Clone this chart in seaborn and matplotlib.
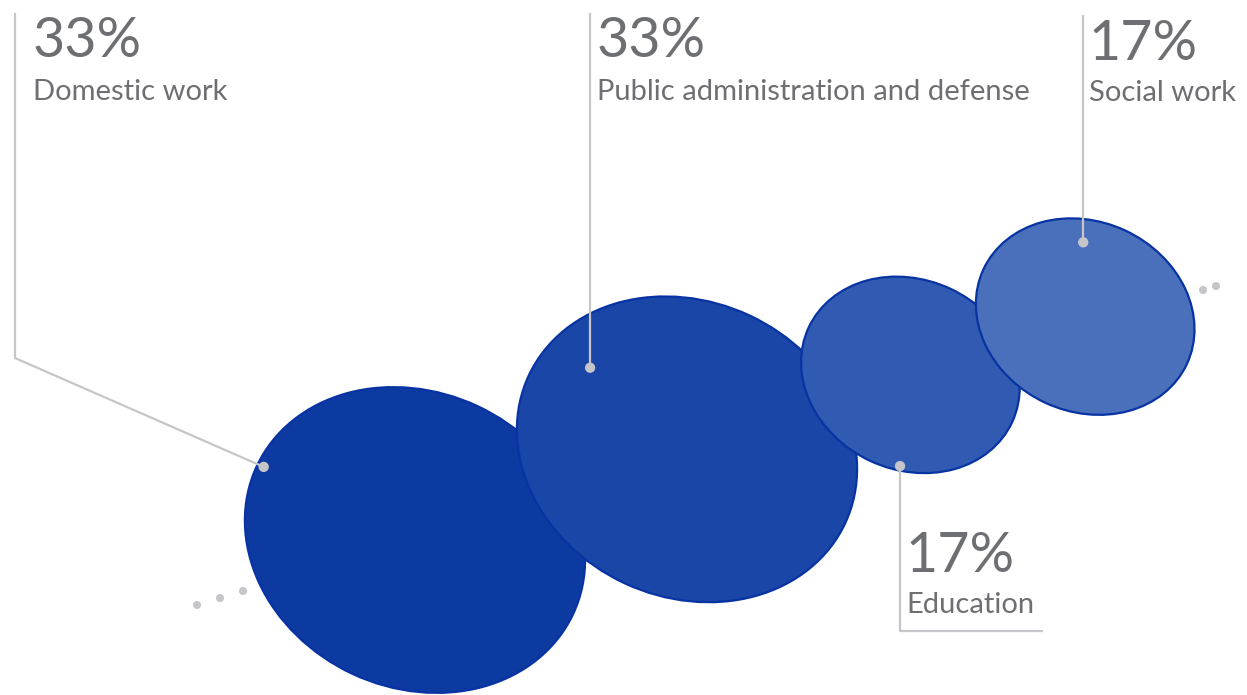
import numpy as np
import pandas as pd
import matplotlib
matplotlib.use("Agg")
import matplotlib.pyplot as plt
from matplotlib.patches import Ellipse
import seaborn as sns

# --- data -------------------------------------------------------------
categories = ["Domestic work", "Public administration and defense",
              "Education", "Social work"]
shares = [33, 33, 17, 17]          # percent
fill_colors = ["#0D3AA1", "#1A46A8", "#315BB2", "#4A6FBB"]

# --- style ------------------------------------------------------------
sns.set_theme(style="white")
plt.rcParams["font.family"] = ["Lato", "DejaVu Sans"]

TEXT = "#6E6F73"
GUIDE = "#C6C6CA"
EDGE = "#0833A3"

W, H = 1247, 695
fig = plt.figure(figsize=(W / 100, H / 100), dpi=100)
ax = fig.add_axes([0, 0, 1, 1])
ax.set_xlim(0, W)
ax.set_ylim(H, 0)
ax.axis("off")

# bubble radius grows with the share; bubbles are chained along a
# shallow diagonal, each overlapping its neighbour a little
R_MAX = 170.0
radii = [R_MAX * (v / max(shares)) ** (2 / 3) for v in shares]
cx, cy = [415.0], [540.0]
for i in range(1, len(shares)):
    step = 0.80 * (radii[i - 1] + radii[i])
    cx.append(cx[-1] + step)
    cy.append(cy[-1] - step / 3)

for x, y, r, c in zip(cx, cy, radii, fill_colors):
    ax.add_patch(Ellipse((x, y), width=2 * 1.027 * r, height=2 * 0.869 * r,
                         angle=25, facecolor=c, edgecolor=EDGE,
                         linewidth=1.6, zorder=2))

# where each leader touches its bubble (fraction of the radius)
anchor_offsets = [(-0.89, -0.43), (-0.57, -0.48), (-0.095, 0.835), (-0.018, -0.68)]
anchors = [(x + dx * r, y + dy * r)
           for (x, y, r), (dx, dy) in zip(zip(cx, cy, radii), anchor_offsets)]

# leader paths and label placement
leaders = [
    [(15, 13), (15, 358), anchors[0]],
    [(anchors[1][0], 13), anchors[1]],
    [anchors[2], (anchors[2][0], 631), (1043, 631)],
    [(anchors[3][0], 15), anchors[3]],
]
label_pos = [(33, 57, 100), (597, 57, 100), (906, 572, 613), (1089, 60, 101)]

for path in leaders:
    xs, ys = zip(*path)
    ax.plot(xs, ys, color=GUIDE, lw=1.6, solid_capstyle="butt", zorder=3)

for (x, y_pct, y_cat), cat, v in zip(label_pos, categories, shares):
    ax.text(x, y_pct, f"{v}%", fontsize=40, color=TEXT, va="baseline",
            ha="left", zorder=4)
    ax.text(x, y_cat, cat, fontsize=21, color=TEXT, va="baseline",
            ha="left", zorder=4)

anchor_df = pd.DataFrame(anchors, columns=["x", "y"])
sns.scatterplot(data=anchor_df, x="x", y="y", ax=ax, s=55, color=GUIDE,
                edgecolor="none", zorder=5, legend=False)

# trailing dots hint at further categories on either side
trail = pd.DataFrame({"x": [197, 220, 243, 1203, 1216],
                      "y": [605, 598, 591, 290, 286]})
sns.scatterplot(data=trail, x="x", y="y", ax=ax, s=34, color=GUIDE,
                edgecolor="none", zorder=1, legend=False)

ax.set_xlim(0, W)
ax.set_ylim(H, 0)
ax.axis("off")
fig.savefig("out.png", dpi=100)
